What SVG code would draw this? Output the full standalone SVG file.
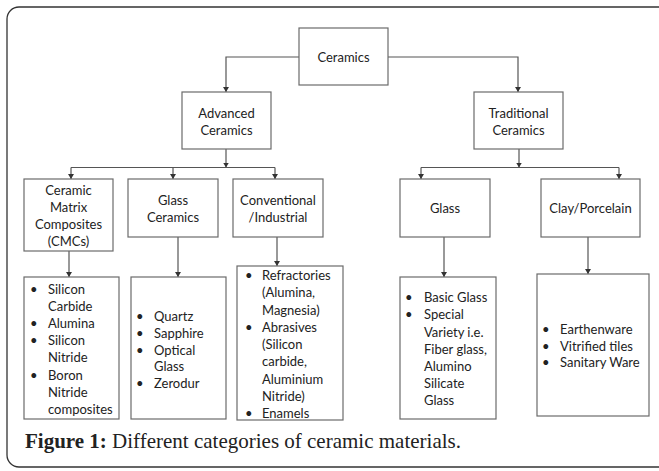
<svg xmlns="http://www.w3.org/2000/svg" width="659" height="471" viewBox="0 0 659 471">
<style>
.frame{fill:#fff;stroke:#333;stroke-width:1.3}
.box{fill:#fff;stroke:#6b6b6b;stroke-width:1.2}
.t{font-family:Lato,"Liberation Sans",sans-serif;font-size:13px;fill:#222}
.c{text-anchor:middle}
.con{fill:none;stroke:#555;stroke-width:1.2}
.cap{font-family:"Liberation Serif",serif;font-size:21px;fill:#222}
</style>
<defs>
<marker id="ah" markerUnits="userSpaceOnUse" markerWidth="6" markerHeight="6" refX="5" refY="3" orient="auto">
<path d="M0,0 L5,3 L0,6 z" fill="#333"/>
</marker>
</defs>
<rect class="frame" x="7" y="7" width="665" height="460" rx="12"/>
<g id="connectors">
<path class="con" d="M299,57 H226 V92" marker-end="url(#ah)"/>
<path class="con" d="M388,57 H518 V92" marker-end="url(#ah)"/>
<path class="con" d="M226,149 V167.5" marker-end="url(#ah)"/>
<path class="con" d="M71,167.5 H275"/>
<path class="con" d="M71,167.5 V179" marker-end="url(#ah)"/>
<path class="con" d="M173,167.5 V179" marker-end="url(#ah)"/>
<path class="con" d="M275,167.5 V179" marker-end="url(#ah)"/>
<path class="con" d="M519,149 V167.5" marker-end="url(#ah)"/>
<path class="con" d="M421,167.5 H619"/>
<path class="con" d="M421,167.5 V179" marker-end="url(#ah)"/>
<path class="con" d="M619,167.5 V179" marker-end="url(#ah)"/>
<path class="con" d="M69,251 V277" marker-end="url(#ah)"/>
<path class="con" d="M178,237 V277" marker-end="url(#ah)"/>
<path class="con" d="M277,237 V266" marker-end="url(#ah)"/>
<path class="con" d="M444,237 V277" marker-end="url(#ah)"/>
<path class="con" d="M588,237 V274" marker-end="url(#ah)"/>
</g>
<g id="ceramics">
<rect class="box" x="299" y="28" width="89" height="57"/>
<text class="t c" x="343.5" y="61.5">Ceramics</text>
</g>
<g id="advanced">
<rect class="box" x="182" y="92" width="89" height="57"/>
<text class="t c" x="226.5" y="117.5">Advanced</text>
<text class="t c" x="226.5" y="134.5">Ceramics</text>
</g>
<g id="traditional">
<rect class="box" x="474" y="92" width="89" height="57"/>
<text class="t c" x="518.5" y="117.5">Traditional</text>
<text class="t c" x="518.5" y="134.5">Ceramics</text>
</g>
<g id="cmc">
<rect class="box" x="24" y="179" width="89" height="72"/>
<text class="t c" x="68.5" y="195">Ceramic</text>
<text class="t c" x="68.5" y="212">Matrix</text>
<text class="t c" x="68.5" y="229">Composites</text>
<text class="t c" x="68.5" y="246">(CMCs)</text>
</g>
<g id="glass-ceramics">
<rect class="box" x="128" y="179" width="90" height="58"/>
<text class="t c" x="173" y="205">Glass</text>
<text class="t c" x="173" y="222">Ceramics</text>
</g>
<g id="conventional">
<rect class="box" x="233" y="179" width="90" height="58"/>
<text class="t c" x="278" y="205">Conventional</text>
<text class="t c" x="278" y="222">/Industrial</text>
</g>
<g id="glass">
<rect class="box" x="400" y="179" width="90" height="58"/>
<text class="t c" x="445" y="212.5">Glass</text>
</g>
<g id="clay">
<rect class="box" x="541" y="179" width="99" height="58"/>
<text class="t c" x="590.5" y="212.5">Clay/Porcelain</text>
</g>
<g id="list-cmc">
<rect class="box" x="24" y="277" width="95" height="142"/>
<text class="t" x="30" y="294">•</text><text class="t" x="48" y="294">Silicon</text>
<text class="t" x="48" y="311">Carbide</text>
<text class="t" x="30" y="328">•</text><text class="t" x="48" y="328">Alumina</text>
<text class="t" x="30" y="345">•</text><text class="t" x="48" y="345">Silicon</text>
<text class="t" x="48" y="362">Nitride</text>
<text class="t" x="30" y="380">•</text><text class="t" x="48" y="380">Boron</text>
<text class="t" x="48" y="397">Nitride</text>
<text class="t" x="48" y="414">composites</text>
</g>
<g id="list-glass-ceramics">
<rect class="box" x="131" y="277" width="95" height="142"/>
<text class="t" x="136" y="321">•</text><text class="t" x="154" y="321">Quartz</text>
<text class="t" x="136" y="338">•</text><text class="t" x="154" y="338">Sapphire</text>
<text class="t" x="136" y="355">•</text><text class="t" x="154" y="355">Optical</text>
<text class="t" x="154" y="371">Glass</text>
<text class="t" x="136" y="388">•</text><text class="t" x="154" y="388">Zerodur</text>
</g>
<g id="list-conventional">
<rect class="box" x="237" y="266" width="106" height="154"/>
<text class="t" x="245" y="280">•</text><text class="t" x="262" y="280">Refractories</text>
<text class="t" x="262" y="297">(Alumina,</text>
<text class="t" x="262" y="314.5">Magnesia)</text>
<text class="t" x="245" y="332">•</text><text class="t" x="262" y="332">Abrasives</text>
<text class="t" x="262" y="349">(Silicon</text>
<text class="t" x="262" y="366">carbide,</text>
<text class="t" x="262" y="383.5">Aluminium</text>
<text class="t" x="262" y="401">Nitride)</text>
<text class="t" x="245" y="418">•</text><text class="t" x="262" y="418">Enamels</text>
</g>
<g id="list-glass">
<rect class="box" x="400" y="277" width="96" height="142"/>
<text class="t" x="405" y="302">•</text><text class="t" x="424" y="302">Basic Glass</text>
<text class="t" x="405" y="319">•</text><text class="t" x="424" y="319">Special</text>
<text class="t" x="424" y="337">Variety i.e.</text>
<text class="t" x="424" y="354">Fiber glass,</text>
<text class="t" x="424" y="371">Alumino</text>
<text class="t" x="424" y="388">Silicate</text>
<text class="t" x="424" y="405">Glass</text>
</g>
<g id="list-clay">
<rect class="box" x="537" y="274" width="112" height="142"/>
<text class="t" x="542" y="334">•</text><text class="t" x="560" y="334">Earthenware</text>
<text class="t" x="542" y="351">•</text><text class="t" x="560" y="351">Vitrified tiles</text>
<text class="t" x="542" y="367">•</text><text class="t" x="560" y="367">Sanitary Ware</text>
</g>
<text class="cap" x="25" y="448"><tspan font-weight="bold">Figure 1:</tspan> Different categories of ceramic materials.</text>
</svg>
